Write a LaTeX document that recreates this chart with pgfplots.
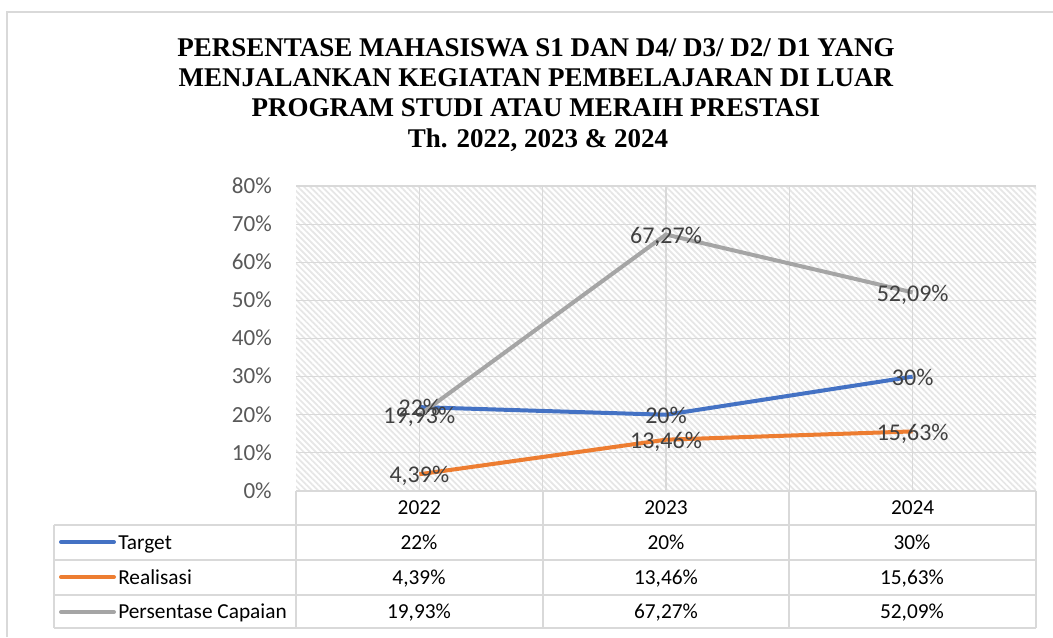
\documentclass[border=0pt]{standalone}
\usepackage{pgfplots}
\pgfplotsset{compat=1.18}
\usepackage{fontspec}
\setmainfont{Carlito}
\newfontfamily\titlefont{Liberation Serif}
\usetikzlibrary{patterns.meta}
\definecolor{cblue}{HTML}{4472C4}
\definecolor{corange}{HTML}{ED7D31}
\definecolor{cgray}{HTML}{A5A5A5}
\definecolor{tickgray}{HTML}{595959}
\definecolor{labgray}{HTML}{404040}
\definecolor{gridc}{HTML}{D9D9D9}
\definecolor{hatchc}{HTML}{E6E6E6}

\pgfplotstableread{
x y
0 22
1 20
2 30
}\target
\pgfplotstableread{
x y
0 4.39
1 13.46
2 15.63
}\realisasi
\pgfplotstableread{
x y
0 19.93
1 67.27
2 52.09
}\capaian

\begin{document}
\begin{tikzpicture}[x=0.75pt,y=-0.75pt]
\useasboundingbox (0,0) rectangle (1053,637);
\fill[white] (0,0) rectangle (1053,637);
\draw[gridc, line width=1.5] (7,637) -- (7,12) -- (1053,12);
\begin{scope}[font=\titlefont\bfseries\fontsize{20.25}{23}\selectfont]
\node[anchor=base, inner sep=0] at (536,56) {PERSENTASE MAHASISWA S1 DAN D4/ D3/ D2/ D1 YANG};
\node[anchor=base, inner sep=0] at (536,86) {MENJALANKAN KEGIATAN PEMBELAJARAN DI LUAR};
\node[anchor=base, inner sep=0] at (536,116) {PROGRAM STUDI ATAU MERAIH PRESTASI};
\node[anchor=base, inner sep=0] at (538,147) {Th. 2022, 2023 \& 2024};
\end{scope}
\begin{axis}[at={(222pt,-368.25pt)}, anchor=south west, scale only axis,
  width=555pt, height=228.75pt,
  /pgf/number format/assume math mode=true,
  xmin=-0.5, xmax=2.5, ymin=0, ymax=80,
  ytick={0,10,...,80},
  yticklabel={\pgfmathprintnumber{\tick}\%},
  xtick={0,1,2}, xticklabels={2022,2023,2024},
  minor xtick={0.5,1.5},
  xmajorgrids, xminorgrids, ymajorgrids,
  grid style={gridc, line width=0.8pt},
  minor grid style={gridc, line width=0.8pt},
  major tick length=0pt, minor tick length=0pt,
  axis line style={draw=none},
  axis background/.style={pattern={Lines[angle=-45,distance=3.2pt,line width=1.3pt]}, pattern color=hatchc},
  yticklabel style={text=tickgray, anchor=base east, inner sep=0pt, xshift=-18pt, yshift=-5.5pt, font=\fontsize{17.3}{20}\selectfont},
  xticklabel style={text=black, anchor=base, inner sep=0pt, yshift=-17.6pt, font=\fontsize{16}{19}\selectfont},
  every node near coord/.append style={anchor=base, yshift=-6.5pt, text=labgray, font=\fontsize{18}{21}\selectfont, inner sep=0pt},
  clip=false,
]
\addplot[cblue, line width=3pt, nodes near coords={\pgfmathprintnumber[fixed,precision=0]{\pgfplotspointmeta}\%}, point meta=y] table[x=x,y=y] {\target};
\addplot[corange, line width=3pt, nodes near coords={\pgfmathprintnumber[fixed,fixed zerofill,precision=2,use comma]{\pgfplotspointmeta}\%}, point meta=y] table[x=x,y=y] {\realisasi};
\addplot[cgray, line width=3pt, nodes near coords={\pgfmathprintnumber[fixed,fixed zerofill,precision=2,use comma]{\pgfplotspointmeta}\%}, point meta=y] table[x=x,y=y] {\capaian};
\end{axis}
% data table
\begin{scope}[gridc, line width=1.5]
\draw (296,491) -- (1036,491);
\draw (54,525) -- (1036,525);
\draw (54,560) -- (1036,560);
\draw (54,595) -- (1036,595);
\draw (54,628) -- (1036,628);
\draw (54,525) -- (54,628);
\foreach \xx in {296,543,789,1036} \draw (\xx,491) -- (\xx,628);
\end{scope}
\begin{scope}[font=\fontsize{16}{19}\selectfont]
\draw[cblue, line width=3pt, line cap=round] (61,542) -- (114,542);
\draw[corange, line width=3pt, line cap=round] (61,577) -- (114,577);
\draw[cgray, line width=3pt, line cap=round] (61,612) -- (114,612);
\node[anchor=base west, inner sep=0] at (118,549) {Target};
\node[anchor=base west, inner sep=0] at (118,584) {Realisasi};
\node[anchor=base west, inner sep=0] at (118,618.5) {Persentase Capaian};
\node[anchor=base, inner sep=0] at (419,549) {22\%};
\node[anchor=base, inner sep=0] at (666,549) {20\%};
\node[anchor=base, inner sep=0] at (912,549) {30\%};
\node[anchor=base, inner sep=0] at (419,584) {4,39\%};
\node[anchor=base, inner sep=0] at (666,584) {13,46\%};
\node[anchor=base, inner sep=0] at (912,584) {15,63\%};
\node[anchor=base, inner sep=0] at (419,618.5) {19,93\%};
\node[anchor=base, inner sep=0] at (666,618.5) {67,27\%};
\node[anchor=base, inner sep=0] at (912,618.5) {52,09\%};
\end{scope}
\end{tikzpicture}
\end{document}
